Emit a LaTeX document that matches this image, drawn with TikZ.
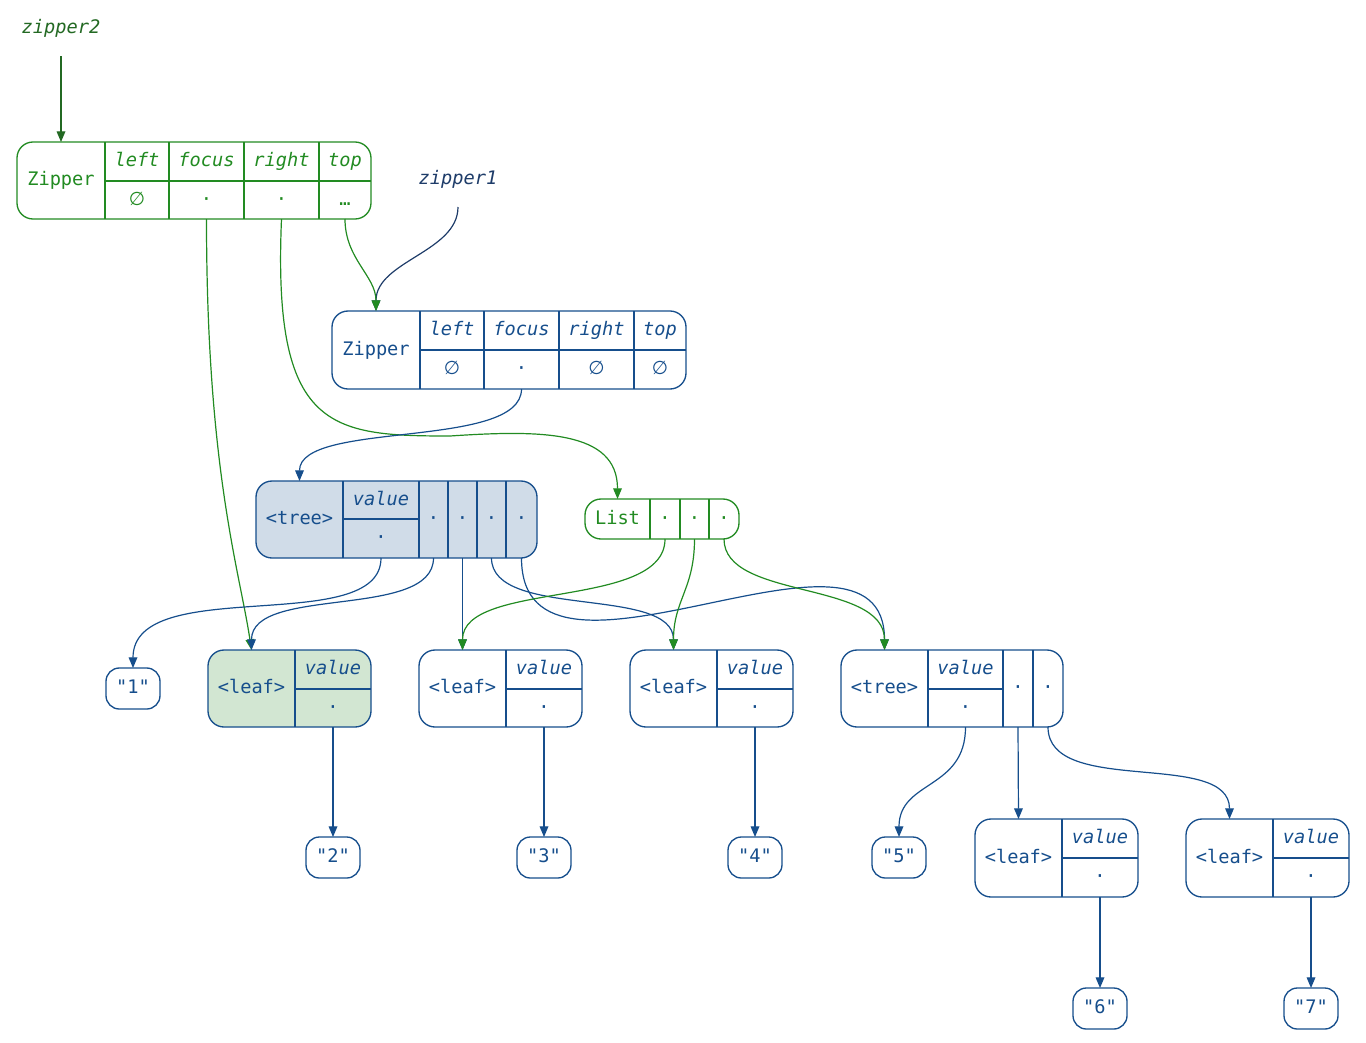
\documentclass[tikz,border=0pt]{standalone}
\usepackage{fontspec}
\setmonofont{DejaVu Sans Mono}
\newfontfamily\symfnt{DejaVu Sans}
\usetikzlibrary{arrows.meta}
\definecolor{cblue}{RGB}{22,78,140}
\definecolor{cgreen}{RGB}{34,139,34}
\definecolor{dgreen}{RGB}{35,105,35}
\definecolor{dblue}{RGB}{30,60,105}
\definecolor{tfill}{RGB}{208,220,232}
\definecolor{lfill}{RGB}{210,230,210}
\newcommand\monofnt{\ttfamily\fontsize{14}{16}\selectfont}
\newcommand\emptysym{{\symfnt\itshape\fontsize{14}{16}\selectfont ∅}}
% [opts]{name}{x1}{y1}{x2}{y2}{text}
\newcommand\cellnd[7][]{\node[cellbox,#1,minimum width={(#5-#3)*0.75pt},minimum height={(#6-#4)*0.75pt}] (#2) at ({(#3+#5)/2},{(#4+#6)/2}) {#7};}
\begin{document}
\begin{tikzpicture}[x=0.75pt,y=-0.75pt,
  cellbox/.style={inner sep=0pt,outer sep=0pt,rectangle,font=\monofnt,text height=10pt,text depth=2pt},
  hdr/.style={font=\monofnt\itshape},
  rec/.style={line width=1pt,rounded corners=12pt},
  div/.style={line width=1pt},
  strbox/.style={draw,line width=1pt,rounded corners=10pt},
  conn/.style={line width=0.9pt,-{Triangle[length=8pt,width=6.5pt]}},
  lbl/.style={inner sep=0pt,font=\monofnt\itshape,text height=10pt,text depth=2pt}]
\useasboundingbox (0,0) rectangle (1366,1042);

% ---------- Zipper (zipper2, green) ----------
\begin{scope}[color=cgreen]
\draw[rec] (17,142) rectangle (371,219);
\draw[div] (105,142)--(105,219) (169,142)--(169,219) (244,142)--(244,219) (319,142)--(319,219) (105,181)--(371,181);
\cellnd{ztwoname}{17}{142}{105}{219}{Zipper}
\cellnd[hdr]{ztwoleftH}{105}{142}{169}{181}{left}
\cellnd[hdr]{ztwofocusH}{169}{142}{244}{181}{focus}
\cellnd[hdr]{ztworightH}{244}{142}{319}{181}{right}
\cellnd[hdr]{ztwotopH}{319}{142}{371}{181}{top}
\cellnd{ztwoleft}{105}{181}{169}{219}{\emptysym}
\cellnd{ztwofocus}{169}{181}{244}{219}{·}
\cellnd{ztworight}{244}{181}{319}{219}{·}
\cellnd{ztwotop}{319}{181}{371}{219}{…}
\end{scope}
\node[lbl,text=dgreen] (lztwo) at (61,28) {zipper2};
\coordinate (ztwofree) at (61,56);

% ---------- Zipper (zipper1, blue) ----------
\begin{scope}[color=cblue]
\draw[rec] (332,311) rectangle (686,389);
\draw[div] (420,311)--(420,389) (484,311)--(484,389) (559,311)--(559,389) (634,311)--(634,389) (420,350)--(686,350);
\cellnd{zonename}{332}{311}{420}{389}{Zipper}
\cellnd[hdr]{zoneleftH}{420}{311}{484}{350}{left}
\cellnd[hdr]{zonefocusH}{484}{311}{559}{350}{focus}
\cellnd[hdr]{zonerightH}{559}{311}{634}{350}{right}
\cellnd[hdr]{zonetopH}{634}{311}{686}{350}{top}
\cellnd{zoneleft}{420}{350}{484}{389}{\emptysym}
\cellnd{zonefocus}{484}{350}{559}{389}{·}
\cellnd{zoneright}{559}{350}{634}{389}{\emptysym}
\cellnd{zonetop}{634}{350}{686}{389}{\emptysym}
\end{scope}
\node[lbl,text=dblue] (lzone) at (458,179) {zipper1};
\coordinate (zonefree) at (458,207);

% ---------- tree (top, filled) ----------
\begin{scope}[color=cblue]
\draw[rec,fill=tfill] (256,481) rectangle (537,558);
\draw[div] (343,481)--(343,558) (419,481)--(419,558) (448,481)--(448,558) (477,481)--(477,558) (506,481)--(506,558) (343,519)--(419,519);
\cellnd{tonename}{256}{481}{343}{558}{<tree>}
\cellnd[hdr]{tonevH}{343}{481}{419}{519}{value}
\cellnd{tonev}{343}{519}{419}{558}{·}
\cellnd{tonea}{419}{481}{448}{558}{·}
\cellnd{toneb}{448}{481}{477}{558}{·}
\cellnd{tonec}{477}{481}{506}{558}{·}
\cellnd{toned}{506}{481}{537}{558}{·}
\end{scope}

% ---------- List (green) ----------
\begin{scope}[color=cgreen]
\draw[rec] (585,499) rectangle (739,539);
\draw[div] (650,499)--(650,539) (680,499)--(680,539) (709,499)--(709,539);
\cellnd{lname}{585}{499}{650}{539}{List}
\cellnd{la}{650}{499}{680}{539}{·}
\cellnd{lb}{680}{499}{709}{539}{·}
\cellnd{lc}{709}{499}{739}{539}{·}
\end{scope}

% ---------- leaves and subtree ----------
\begin{scope}[color=cblue]
% leaf 1 (focused, green fill)
\draw[rec,fill=lfill] (208,650) rectangle (371,727);
\draw[div] (295,650)--(295,727) (295,689)--(371,689);
\cellnd{lfaname}{208}{650}{295}{727}{<leaf>}
\cellnd[hdr]{lfavH}{295}{650}{371}{689}{value}
\cellnd{lfav}{295}{689}{371}{727}{·}
% leaf 3
\draw[rec] (419,650) rectangle (582,727);
\draw[div] (506,650)--(506,727) (506,689)--(582,689);
\cellnd{lfbname}{419}{650}{506}{727}{<leaf>}
\cellnd[hdr]{lfbvH}{506}{650}{582}{689}{value}
\cellnd{lfbv}{506}{689}{582}{727}{·}
% leaf 4
\draw[rec] (630,650) rectangle (793,727);
\draw[div] (717,650)--(717,727) (717,689)--(793,689);
\cellnd{lfcname}{630}{650}{717}{727}{<leaf>}
\cellnd[hdr]{lfcvH}{717}{650}{793}{689}{value}
\cellnd{lfcv}{717}{689}{793}{727}{·}
% tree 2
\draw[rec] (841,650) rectangle (1063,727);
\draw[div] (928,650)--(928,727) (1003,650)--(1003,727) (1033,650)--(1033,727) (928,689)--(1003,689);
\cellnd{ttwoname}{841}{650}{928}{727}{<tree>}
\cellnd[hdr]{ttwovH}{928}{650}{1003}{689}{value}
\cellnd{ttwov}{928}{689}{1003}{727}{·}
\cellnd{ttwoa}{1003}{650}{1033}{727}{·}
\cellnd{ttwob}{1033}{650}{1063}{727}{·}
% leaf 6
\draw[rec] (975,819) rectangle (1138,897);
\draw[div] (1062,819)--(1062,897) (1062,858)--(1138,858);
\cellnd{lfdname}{975}{819}{1062}{897}{<leaf>}
\cellnd[hdr]{lfdvH}{1062}{819}{1138}{858}{value}
\cellnd{lfdv}{1062}{858}{1138}{897}{·}
% leaf 7
\draw[rec] (1186,819) rectangle (1349,897);
\draw[div] (1273,819)--(1273,897) (1273,858)--(1349,858);
\cellnd{lfename}{1186}{819}{1273}{897}{<leaf>}
\cellnd[hdr]{lfevH}{1273}{819}{1349}{858}{value}
\cellnd{lfev}{1273}{858}{1349}{897}{·}
% strings
\cellnd[strbox]{sone}{106}{668}{160}{709}{"1"}
\cellnd[strbox]{stwo}{306}{837}{360}{878}{"2"}
\cellnd[strbox]{sthree}{517}{837}{571}{878}{"3"}
\cellnd[strbox]{sfour}{728}{837}{782}{878}{"4"}
\cellnd[strbox]{sfive}{872}{837}{926}{878}{"5"}
\cellnd[strbox]{ssix}{1073}{988}{1127}{1029}{"6"}
\cellnd[strbox]{sseven}{1284}{988}{1338}{1029}{"7"}
\end{scope}

% ---------- connectors ----------
\draw[conn,dgreen] (ztwofree) -- (ztwoname.north);
\draw[conn,dblue] (zonefree) .. controls +(0,45) and +(0,-50) .. (zonename.north);
\draw[conn,cgreen] (ztwotop.south) .. controls +(0,40) and +(0,-35) .. (zonename.north);
\draw[conn,cgreen] (ztwofocus.south) .. controls +(0,251) and +(-12,-80) .. (lfaname.north);
\draw[conn,cgreen] (ztworight.south) .. controls +(-9,211) and (330,436) .. (450,436) .. controls (540,430) and +(0,-69) .. (lname.north);
\draw[conn,cblue] (zonefocus.south) .. controls +(0,61) and +(0,-61) .. (tonename.north);
\draw[conn,cblue] (tonev.south) .. controls +(0,80) and +(0,-95) .. (sone.north);
\draw[conn,cblue] (tonea.south) .. controls +(0,62) and +(0,-65) .. (lfaname.north);
\draw[conn,cblue] (toneb.south) -- (lfbname.north);
\draw[conn,cblue] (tonec.south) .. controls +(0,62) and +(0,-65) .. (lfcname.north);
\draw[conn,cblue] (toned.south) .. controls +(0,165) and +(0,-160) .. (ttwoname.north);
\draw[conn,cgreen] (la.south) .. controls +(0,71) and +(0,-70) .. (lfbname.north);
\draw[conn,cgreen] (lb.south) .. controls +(0,50) and +(0,-50) .. (lfcname.north);
\draw[conn,cgreen] (lc.south) .. controls +(0,61) and +(0,-70) .. (ttwoname.north);
\draw[conn,cblue] (lfav.south) -- (stwo.north);
\draw[conn,cblue] (lfbv.south) -- (sthree.north);
\draw[conn,cblue] (lfcv.south) -- (sfour.north);
\draw[conn,cblue] (ttwov.south) .. controls +(0,63) and +(0,-57) .. (sfive.north);
\draw[conn,cblue] (ttwoa.south) -- (lfdname.north);
\draw[conn,cblue] (ttwob.south) .. controls +(0,70) and +(0,-70) .. (lfename.north);
\draw[conn,cblue] (lfdv.south) -- (ssix.north);
\draw[conn,cblue] (lfev.south) -- (sseven.north);
\end{tikzpicture}
\end{document}
